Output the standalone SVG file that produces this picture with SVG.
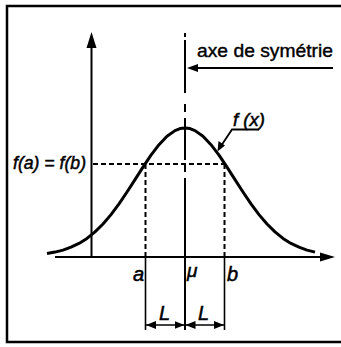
<svg xmlns="http://www.w3.org/2000/svg" width="341" height="347" viewBox="0 0 341 347">
<style>
.ln{stroke:#000;fill:none;stroke-linecap:butt}
.ax{stroke-width:2}
.dash{stroke-width:2;stroke-dasharray:5 3}
.thin{stroke-width:1.6}
.lbl{font-family:"Liberation Sans",Arial,sans-serif;font-style:italic;fill:#000;stroke:#000;stroke-width:0.5}
.txt{font-family:"Liberation Sans",Arial,sans-serif;fill:#000;stroke:#000;stroke-width:0.4}
</style>
<defs>
<marker id="ah" viewBox="0 0 10 8" refX="10" refY="4" markerWidth="10" markerHeight="8" markerUnits="userSpaceOnUse" orient="auto-start-reverse">
<path d="M0,0 L10,4 L0,8 Z" fill="#000"/>
</marker>
</defs>
<rect width="341" height="347" fill="#fff"/>
<g id="frame">
<path class="ln" d="M345 6 H7 V342 H345" stroke-width="2.5"/>
</g>
<g id="connectors">
<line class="ln ax" x1="91.5" y1="257" x2="91.5" y2="46"/>
<polygon points="91.5,32 86.5,48 96.5,48" fill="#000"/>
<line class="ln ax" x1="55" y1="257" x2="322" y2="257"/>
<polygon points="335,257 320,252.5 320,261.5" fill="#000"/>
<path class="ln ax" d="M185 33 V37 M185 40 V93 M185 104 V112 M185 118 V160 M185 165 V172 M185 178 V330"/>
<line class="ln ax" x1="333" y1="68" x2="196" y2="68"/>
<polygon points="187,68 198,64 198,72" fill="#000"/>
<line class="ln dash" x1="93" y1="164" x2="225" y2="164"/>
<line class="ln dash" x1="145.5" y1="164" x2="145.5" y2="257"/>
<line class="ln dash" x1="224.5" y1="164" x2="224.5" y2="257"/>
<line class="ln thin" x1="145.5" y1="257" x2="145.5" y2="330"/>
<line class="ln thin" x1="224.5" y1="257" x2="224.5" y2="330"/>
<line class="ln thin" x1="146" y1="325" x2="184.5" y2="325" marker-start="url(#ah)" marker-end="url(#ah)"/>
<line class="ln thin" x1="185.5" y1="325" x2="224" y2="325" marker-start="url(#ah)" marker-end="url(#ah)"/>
<polyline class="ln" stroke-width="1.8" points="259,129.5 232,129.5 221,146"/>
<polygon points="217.5,151.5 218.5,141 225,145.5" fill="#000"/>
</g>
<g id="curve">
<polyline class="ln" stroke-width="3" stroke-linejoin="round" points="47,253.5 55,252.1 63,250.1 71,247.2 79,243.4 87,238.4 95,231.9 103,224 111,214.6 119,203.9 127,192 135,179.6 143,167.1 151,155.1 159,144.7 167,136.3 175,130.6 180,128.6 185,128 190,128.6 195,130.6 203,136.3 211,144.7 219,155.1 227,167.1 235,179.6 243,192 251,203.9 259,214.6 267,224 275,231.9 283,238.4 291,243.4 299,247.2 307,250.1 315,252.1"/>
</g>
<g id="labels">
<text class="txt" x="197" y="57" font-size="18.5" textLength="136" lengthAdjust="spacingAndGlyphs">axe de symétrie</text>
<text class="lbl" x="233" y="126" font-size="18" textLength="32" lengthAdjust="spacingAndGlyphs">f (x)</text>
<text class="lbl" x="13" y="169" font-size="18" textLength="73" lengthAdjust="spacingAndGlyphs">f(a) = f(b)</text>
<text class="lbl" x="133" y="281" font-size="20">a</text>
<text class="lbl" x="187" y="277" font-size="19">μ</text>
<text class="lbl" x="227" y="281" font-size="20">b</text>
<text class="lbl" x="159" y="320" font-size="20">L</text>
<text class="lbl" x="198" y="320" font-size="20">L</text>
</g>
</svg>
